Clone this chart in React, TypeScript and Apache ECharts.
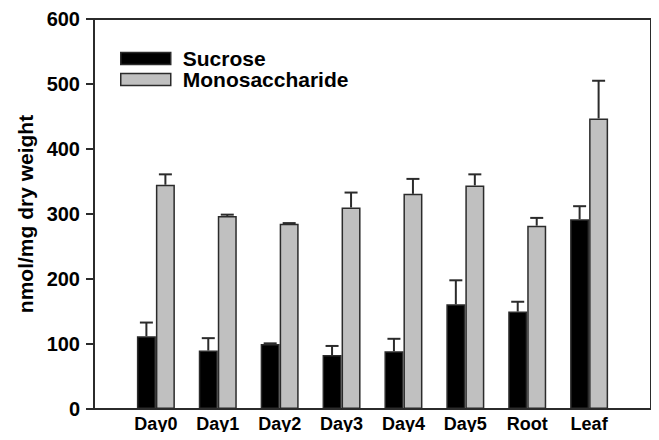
import React, { useEffect, useRef } from "react";
import * as echarts from "echarts";

const categories = ["Day0", "Day1", "Day2", "Day3", "Day4", "Day5", "Root", "Leaf"];
const sucrose = [112, 90, 100, 83, 89, 161, 150, 292];
const sucroseErr = [21, 19, 1, 14, 19, 37, 15, 20];
const mono = [345, 297, 285, 310, 331, 344, 282, 447];
const monoErr = [16, 2, 1, 23, 23, 17, 12, 58];
const yTicks = { min: 0, max: 600, interval: 100 };

const FONT = "'Liberation Sans', Arial, Helvetica, sans-serif";
const DARK = "#2b2b2b";
const GRAY = "#c0c0c0";
const BAR_W = 19;

export default function App() {
  const ref = useRef<HTMLDivElement>(null);

  useEffect(() => {
    if (!ref.current) return;
    const chart = echarts.init(ref.current, null, { renderer: "svg" });

    const axisCats = ["", ...categories, ""];
    const pad = (arr: number[]) => ["-", ...arr, "-"];

    const errData = (vals: number[], errs: number[]) =>
      vals.map((v, i) => [i + 1, v, v + errs[i]]);

    const errSeries = (name: string, vals: number[], errs: number[], offset: number) => ({
      type: "custom",
      name: name + " err",
      z: 5,
      silent: true,
      data: errData(vals, errs),
      encode: { x: 0, y: [1, 2] },
      renderItem: (params: any, api: any) => {
        const idx = api.value(0);
        const base = api.coord([idx, api.value(1)]);
        const top = api.coord([idx, api.value(2)]);
        const x = base[0] + offset;
        const style = { stroke: DARK, lineWidth: 2 };
        return {
          type: "group",
          children: [
            { type: "line", shape: { x1: x, y1: base[1], x2: x, y2: top[1] }, style },
            { type: "line", shape: { x1: x - 6.5, y1: top[1], x2: x + 6.5, y2: top[1] }, style },
          ],
        };
      },
    });

    chart.setOption({
      animation: false,
      backgroundColor: "#ffffff",
      grid: {
        left: 94,
        right: 8,
        top: 19,
        bottom: 31,
        show: true,
        borderColor: DARK,
        borderWidth: 2,
        backgroundColor: "transparent",
      },
      legend: {
        orient: "vertical",
        left: 120,
        top: 48,
        padding: 0,
        itemWidth: 50,
        itemHeight: 12,
        itemGap: 0,
        selectedMode: false,
        textStyle: {
          fontFamily: FONT,
          fontWeight: "bold",
          fontSize: 21,
          lineHeight: 20,
          color: "#000",
          padding: [0, 0, 0, 7],
        },
        data: [
          { name: "Sucrose", icon: "rect", itemStyle: { color: "#000", borderColor: DARK, borderWidth: 1.5 } },
          { name: "Monosaccharide", icon: "rect", itemStyle: { color: GRAY, borderColor: DARK, borderWidth: 1.5 } },
        ],
      },
      xAxis: {
        type: "category",
        data: axisCats,
        boundaryGap: false,
        axisLine: { lineStyle: { color: DARK, width: 2 } },
        axisTick: { show: false },
        splitLine: { show: false },
        axisLabel: {
          interval: 0,
          margin: 6,
          fontFamily: FONT,
          fontWeight: "bold",
          fontSize: 18,
          color: "#000",
        },
      },
      yAxis: {
        type: "value",
        min: yTicks.min,
        max: yTicks.max,
        interval: yTicks.interval,
        name: "nmol/mg dry weight",
        nameLocation: "middle",
        nameGap: 57,
        nameTextStyle: {
          fontFamily: FONT,
          fontWeight: "bold",
          fontSize: 21,
          color: "#000",
        },
        axisLine: { show: true, lineStyle: { color: DARK, width: 2 } },
        axisTick: { show: true, length: 8, inside: false, lineStyle: { color: DARK, width: 2 } },
        splitLine: { show: false },
        axisLabel: {
          margin: 14,
          fontFamily: FONT,
          fontWeight: "bold",
          fontSize: 20,
          color: "#000",
        },
      },
      series: [
        {
          type: "bar",
          name: "Sucrose",
          data: pad(sucrose),
          barWidth: BAR_W,
          barGap: "0%",
          itemStyle: { color: "#000", borderColor: DARK, borderWidth: 1.5 },
        },
        {
          type: "bar",
          name: "Monosaccharide",
          data: pad(mono),
          barWidth: BAR_W,
          barGap: "0%",
          itemStyle: { color: GRAY, borderColor: DARK, borderWidth: 1.5 },
        },
        errSeries("Sucrose", sucrose, sucroseErr, -BAR_W / 2),
        errSeries("Monosaccharide", mono, monoErr, BAR_W / 2),
      ],
    });

    return () => chart.dispose();
  }, []);

  return <div ref={ref} style={{ width: 659, height: 440, margin: -8 }} />;
}
